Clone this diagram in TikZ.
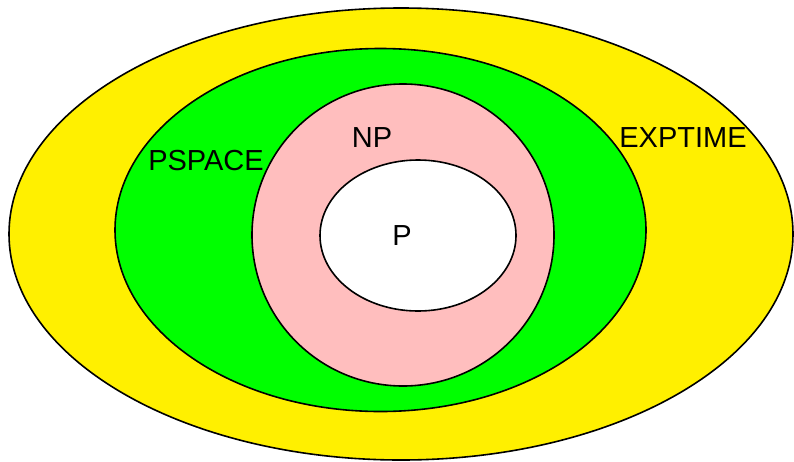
\documentclass[tikz,border=0pt]{standalone}
\usepackage{fontspec}
\setmainfont{Liberation Sans}
\usetikzlibrary{shapes.geometric}
\definecolor{cyellow}{RGB}{255,240,0}
\definecolor{cgreen}{RGB}{0,255,0}
\definecolor{cpink}{RGB}{255,190,190}
\tikzset{
  set/.style={draw,ellipse,line width=1.6pt,inner sep=0pt},
  lab/.style={font=\fontsize{29}{34}\selectfont,inner sep=0pt},
}
\begin{document}
\begin{tikzpicture}[x=1pt,y=-1pt]
  \useasboundingbox (0,0) rectangle (794,461);
  % classes, outermost first
  \node[set,fill=cyellow,minimum width=784pt,minimum height=452pt] (exptime) at (401,234) {};
  \node[set,fill=cgreen,minimum width=531pt,minimum height=363pt] (pspace) at (380.5,230) {};
  \node[set,fill=cpink,minimum width=302pt,minimum height=302pt] (np) at (403,235) {};
  \node[set,fill=white,minimum width=196pt,minimum height=151pt] (p) at (418,235.5) {};
  % labels
  \node[lab] (exptimelab) at (683,138) {EXPTIME};
  \node[lab] (pspacelab) at (206,161) {PSPACE};
  \node[lab] (nplab) at (372,138) {NP};
  \node[lab] (plab) at (402,236) {P};
\end{tikzpicture}
\end{document}
